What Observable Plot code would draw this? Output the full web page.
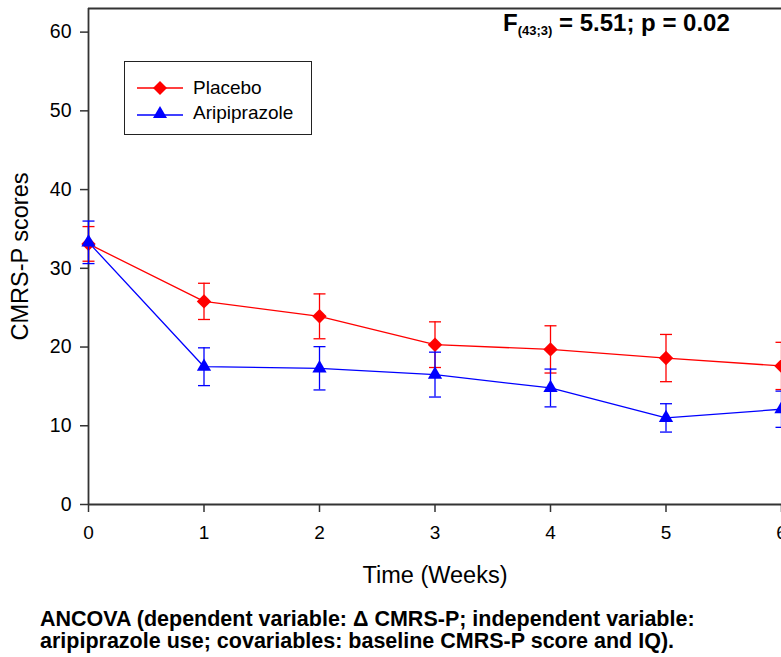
<!DOCTYPE html>
<html><head><meta charset="utf-8">
<script src="https://cdn.jsdelivr.net/npm/d3@7"></script>
<script src="https://cdn.jsdelivr.net/npm/@observablehq/plot@0.6"></script>
<style>
body{margin:0;background:#fff;font-family:"Liberation Sans",Arial,Helvetica,sans-serif;color:#000;}
#wrap{position:relative;width:781px;height:657px;overflow:hidden;}
#chart svg{display:block;}
#stat{position:absolute;left:503px;top:10px;font-weight:bold;font-size:24px;line-height:26px;white-space:nowrap;}
#stat sub{font-size:13px;vertical-align:-4px;}
#legend{position:absolute;left:124px;top:61px;width:188px;height:74px;border:1.5px solid #222;box-sizing:border-box;background:#fff;}
#legend .row{position:absolute;left:0;height:22px;display:flex;align-items:center;font-size:19px;white-space:nowrap;}
#legend svg{display:block;margin-left:12px;margin-right:10px;}
#caption{position:absolute;left:40px;top:608px;font-weight:bold;font-size:21.5px;line-height:22px;white-space:nowrap;}
</style>
</head><body>
<div id="wrap">
<div id="chart"></div>
<div id="stat">F<sub>(43;3)</sub> = 5.51; p = 0.02</div>
<div id="legend"></div>
<div id="caption"></div>
</div>
<script>
const weeks = [0, 1, 2, 3, 4, 5, 6];
const placeboMean = [33.1, 25.8, 23.9, 20.3, 19.7, 18.6, 17.6];
const placeboErr = [2.2, 2.3, 2.85, 2.9, 3.0, 3.0, 3.0];
const aripMean = [33.3, 17.5, 17.3, 16.5, 14.8, 11.0, 12.1];
const aripErr = [2.7, 2.4, 2.75, 2.85, 2.4, 1.8, 2.3];
const yTicks = [0, 10, 20, 30, 40, 50, 60];
const xTicks = [0, 1, 2, 3, 4, 5, 6];
const seriesNames = ["Placebo", "Aripiprazole"];
const seriesColors = ["#ff0000", "#0000ff"];
const xLabel = "Time (Weeks)";
const yLabel = "CMRS-P scores";
const captionLines = [
  "ANCOVA (dependent variable: \u0394 CMRS-P; independent variable:",
  "aripiprazole use; covariables: baseline CMRS-P score and IQ)."
];

const placebo = weeks.map((w, i) => ({week: w, mean: placeboMean[i], lo: placeboMean[i] - placeboErr[i], hi: placeboMean[i] + placeboErr[i]}));
const arip = weeks.map((w, i) => ({week: w, mean: aripMean[i], lo: aripMean[i] - aripErr[i], hi: aripMean[i] + aripErr[i]}));

const capSymbol = {draw(ctx, size) { const w = Math.sqrt(size / Math.PI); ctx.moveTo(-w, 0); ctx.lineTo(w, 0); }};
const axisColor = "#333";
const font = "'Liberation Sans', Arial, sans-serif";

function seriesMarks(data, color, symbol, r) {
  return [
    Plot.ruleX(data, {x: "week", y1: "lo", y2: "hi", stroke: color, strokeWidth: 1.3}),
    Plot.dot(data, {x: "week", y: "hi", symbol: capSymbol, r: 6, stroke: color, fill: "none", strokeWidth: 1.3}),
    Plot.dot(data, {x: "week", y: "lo", symbol: capSymbol, r: 6, stroke: color, fill: "none", strokeWidth: 1.3}),
    Plot.line(data, {x: "week", y: "mean", stroke: color, strokeWidth: 1.3}),
    Plot.dot(data, {x: "week", y: "mean", symbol, r, fill: color, stroke: "none"})
  ];
}

const chart = Plot.plot({
  width: 781,
  height: 595,
  marginLeft: 88,
  marginRight: 0,
  marginTop: 8,
  marginBottom: 91,
  style: {fontFamily: font, background: "#fff", color: "#000", overflow: "visible"},
  x: {domain: [0, 6], axis: null},
  y: {domain: [0, 63], axis: null},
  marks: [
    Plot.axisY({ticks: yTicks, tickFormat: d => String(d), tickSize: 8, tickPadding: 9, fontSize: 19.5, label: null, stroke: axisColor, strokeWidth: 1.5, fill: "#000"}),
    Plot.axisX({ticks: xTicks, tickFormat: d => String(d), tickSize: 8, tickPadding: 13, fontSize: 19, label: null, stroke: axisColor, strokeWidth: 1.5, fill: "#000"}),
    Plot.ruleX([0], {stroke: axisColor, strokeWidth: 1.8}),
    Plot.ruleY([0], {stroke: axisColor, strokeWidth: 1.8}),
    Plot.ruleY([63], {stroke: axisColor, strokeWidth: 1.8}),
    Plot.text([xLabel], {frameAnchor: "bottom", dy: 71, lineAnchor: "middle", textAnchor: "middle", fontSize: 23.5, fill: "#000"}),
    Plot.text([yLabel], {frameAnchor: "left", dx: -68, rotate: -90, textAnchor: "middle", lineAnchor: "middle", fontSize: 23.5, fill: "#000"}),
    ...seriesMarks(placebo, seriesColors[0], "diamond2", 6.5),
    ...seriesMarks(arip, seriesColors[1], "triangle", 5.3)
  ]
});
document.getElementById("chart").appendChild(chart);

// legend
const legend = document.getElementById("legend");
const shapes = [
  c => `<polygon points="23,1 30,8 23,15 16,8" fill="${c}"/>`,
  c => `<polygon points="23,1 30,13 16,13" fill="${c}"/>`
];
seriesNames.forEach((name, i) => {
  const row = document.createElement("div");
  row.className = "row";
  row.style.top = (i === 0 ? 15 : 40) + "px";
  row.innerHTML = `<svg width="46" height="16" viewBox="0 0 46 16"><line x1="0" x2="46" y1="${i===0?8:10}" y2="${i===0?8:10}" stroke="${seriesColors[i]}" stroke-width="1.3"/>${shapes[i](seriesColors[i])}</svg><span>${name}</span>`;
  legend.appendChild(row);
});

document.getElementById("caption").innerHTML = captionLines.join("<br>");
</script>
</body></html>
